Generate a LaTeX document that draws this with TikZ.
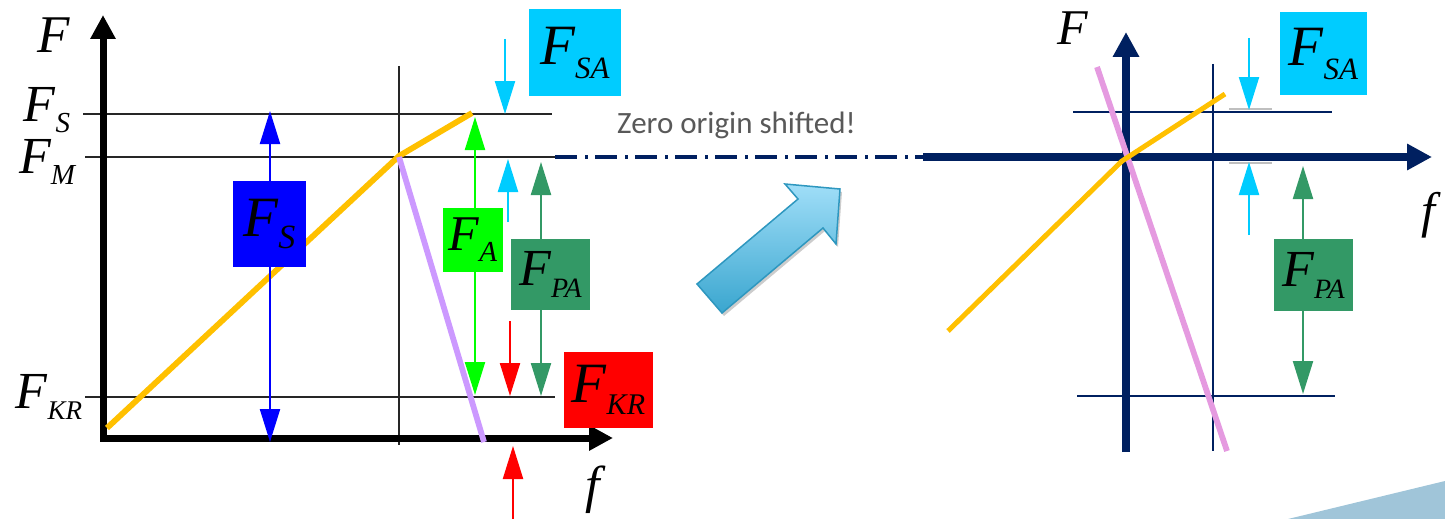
\documentclass[tikz,border=0pt]{standalone}
\usepackage{fontspec}
\setmainfont{Liberation Serif}
\newfontfamily\carlito{Carlito}
\usetikzlibrary{arrows.meta,shadows,calc}
\definecolor{cOr}{HTML}{FFC000}
\definecolor{cPu}{HTML}{CC99FF}
\definecolor{cPk}{HTML}{E59AE0}
\definecolor{cBl}{HTML}{0000FF}
\definecolor{cGr}{HTML}{00FF00}
\definecolor{cCy}{HTML}{00CCFF}
\definecolor{cDg}{HTML}{339966}
\definecolor{cRd}{HTML}{FF0000}
\definecolor{cNv}{HTML}{002060}
\definecolor{cTx}{HTML}{595959}
\definecolor{cTri}{HTML}{A0C5D9}
\definecolor{cArL}{HTML}{A0DEF8}
\definecolor{cArD}{HTML}{3AA6CF}
\definecolor{cArB}{HTML}{2E97BF}
\newcommand{\FL}[4]{{\itshape\fontsize{#1}{#1}\selectfont F\raisebox{-#3pt}{\fontsize{#2}{#2}\selectfont #4}}}
\newcommand{\FO}[1]{{\itshape\fontsize{#1}{#1}\selectfont F}}
\newcommand{\fo}[1]{{\itshape\fontsize{#1}{#1}\selectfont f}}
\tikzset{
  thinline/.style={line width=2pt, draw=black!85},
  navythin/.style={line width=2.2pt, draw=cNv},
  curve/.style={line width=5.8pt},
  farrow/.style={line width=2.2pt, -{Triangle[length=33pt,width=20pt]}},
  fbox/.style={inner sep=0pt, text=black},
  axislab/.style={inner sep=0pt},
}
\begin{document}
\begin{tikzpicture}[x=1pt,y=-1pt]
\useasboundingbox (0,0) rectangle (1445,519);
% ---------------- left diagram ----------------
\draw[thinline] (83,114) -- (552,114);
\draw[thinline] (85,157) -- (555,157);
\draw[thinline] (85,397) -- (555,397);
\draw[thinline] (399,66) -- (399,445);
\draw[line width=7pt, {Triangle[length=24pt,width=24pt]}-{Triangle[length=24pt,width=24pt]}] (103,15) -- (103,438) -- (613,438);
\draw[curve, cOr] (107,428) -- (399,156) -- (472,113);
\draw[curve, cPu] (399,157) -- (484,442);

\node[axislab] (Fl) at (54,35.5) {\FO{53}};
\node[axislab] (FSl) at (47,110) {\FL{52}{29}{11}{S}};
\node[axislab] (FMl) at (47,162) {\FL{52}{29}{11}{M}};
\node[axislab] (FKRl) at (49,397) {\FL{52}{27}{11}{KR}};
\node[axislab] (fl) at (593,490) {\fo{52}};

\node[fbox, fill=cBl, minimum width=73pt, minimum height=86pt] (FSbox) at (269.5,224) {\FL{57}{34}{12}{S}};
\node[fbox, fill=cGr, minimum width=60pt, minimum height=64pt] (FAbox) at (473,240) {\FL{50}{29}{11}{A}};
\node[fbox, fill=cCy, minimum width=92pt, minimum height=87pt] (FSAbox) at (575,52.5) {\FL{57}{31}{14}{SA}};
\node[fbox, fill=cDg, minimum width=79pt, minimum height=71pt] (FPAbox) at (550.5,274.5) {\FL{52}{28}{12}{PA}};
\node[fbox, fill=cRd, minimum width=89pt, minimum height=76pt] (FKRbox) at (608.5,390) {\FL{57}{30}{12}{KR}};

\coordinate (bT) at (270,111); \coordinate (bB) at (270,442);
\draw[farrow, cBl] (FSbox.north -| bT) -- (bT);
\draw[farrow, cBl] (FSbox.south -| bB) -- (bB);
\coordinate (gT) at (475,117); \coordinate (gB) at (475,395);
\draw[farrow, cGr] (FAbox.north -| gT) -- (gT);
\draw[farrow, cGr] (FAbox.south -| gB) -- (gB);
\coordinate (dT) at (541,162); \coordinate (dB) at (541,396);
\draw[farrow, cDg] (FPAbox.north -| dT) -- (dT);
\draw[farrow, cDg] (FPAbox.south -| dB) -- (dB);
\coordinate (c1s) at (505,39); \coordinate (c1e) at (505,114);
\draw[farrow, cCy] (c1s) -- (c1e);
\coordinate (c2s) at (508,222); \coordinate (c2e) at (508,159);
\draw[farrow, cCy] (c2s) -- (c2e);
\coordinate (r1s) at (510,321); \coordinate (r1e) at (510,396);
\draw[farrow, cRd] (r1s) -- (r1e);
\coordinate (r2s) at (513,519); \coordinate (r2e) at (513,446);
\draw[farrow, cRd] (r2s) -- (r2e);

% ---------------- middle ----------------
\coordinate (dd1) at (555,157); \coordinate (dd2) at (923,157);
\draw[cNv, line width=3.5pt, dash pattern=on 22pt off 8pt on 3pt off 7pt] (dd1) -- (dd2);
\node[anchor=base west, inner sep=0pt, text=cTx, font=\carlito\fontsize{31}{31}\selectfont] (zero) at (617,133) {Zero origin shifted!};
\path[draw=cArB, line width=1.5pt, top color=cArL, bottom color=cArD,
  drop shadow={shadow xshift=2pt, shadow yshift=-3pt, opacity=0.2, fill=black}]
  (697,284) -- (798,199) -- (785,184) -- (840,189) -- (836,244) -- (823,228) -- (722,313) -- cycle;

% ---------------- right diagram ----------------
\draw[navythin] (1073,112) -- (1332,112);
\draw[navythin] (1077,396) -- (1335,396);
\draw[navythin] (1213,64) -- (1213,451);
\draw[line width=8pt, cNv, -{Triangle[length=25pt,width=25pt]}] (dd2) -- (1432,157);
\draw[line width=8pt, cNv, -{Triangle[length=25pt,width=25pt]}] (1126,452) -- (1126,32);
\draw[curve, cPk] (1097,67) -- (1227,451);
\draw[line width=5pt, cOr] (948,331) -- (1122,161) -- (1225,94);
\draw[gray!50, line width=1.2pt] (1229,109) -- (1272,109);
\draw[gray!50, line width=1.2pt] (1229,163) -- (1272,163);

\node[axislab] (Fr) at (1073,28) {\FO{50}};
\node[axislab] (fr) at (1428,215) {\fo{50}};
\node[fbox, fill=cCy, minimum width=87pt, minimum height=83pt] (FSAboxR) at (1323.5,53.5) {\FL{57}{31}{14}{SA}};
\node[fbox, fill=cDg, minimum width=79pt, minimum height=72pt] (FPAboxR) at (1313.5,275) {\FL{52}{28}{12}{PA}};

\coordinate (rc1s) at (1249,38); \coordinate (rc1e) at (1249,110);
\draw[farrow, cCy] (rc1s) -- (rc1e);
\coordinate (rc2s) at (1249,235); \coordinate (rc2e) at (1249,162);
\draw[farrow, cCy] (rc2s) -- (rc2e);
\coordinate (rdT) at (1303,166); \coordinate (rdB) at (1303,394);
\draw[farrow, cDg] (FPAboxR.north -| rdT) -- (rdT);
\draw[farrow, cDg] (FPAboxR.south -| rdB) -- (rdB);

\fill[cTri] (1288,519) -- (1445,481) -- (1445,519) -- cycle;
\end{tikzpicture}
\end{document}
